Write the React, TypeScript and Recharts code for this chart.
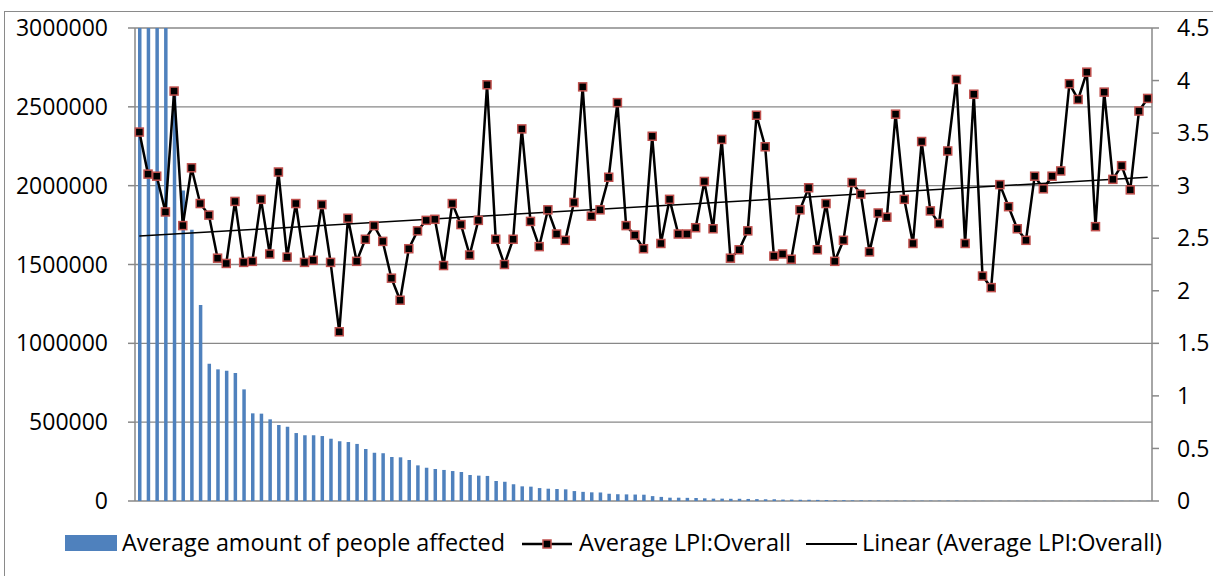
import React from 'react';
import {
  ComposedChart,
  Bar,
  Line,
  XAxis,
  YAxis,
  CartesianGrid,
} from 'recharts';

// people affected, sorted high to low (first bars run past the 3M axis limit)
const peopleAffected = [
  9000000, 6000000, 4500000, 3300000, 2600000, 1970000, 1720000, 1243000, 871000, 835000,
  826000, 812000, 708000, 556000, 554000, 518000, 482000, 471000, 431000, 417000,
  417000, 412000, 395000, 379000, 374000, 362000, 330000, 306000, 303000, 279000,
  277000, 260000, 226000, 211000, 203000, 197000, 190000, 184000, 165000, 161000,
  159000, 127000, 122000, 106000, 93000, 91000, 82000, 78000, 76000, 74000,
  63000, 58000, 55000, 54000, 46000, 43000, 42000, 41000, 40000, 31000,
  26000, 21000, 21000, 20000, 19000, 17000, 15000, 15000, 14000, 14000,
  13000, 12000, 11000, 11000, 9000, 9000, 8000, 8000, 7000, 6000,
  5000, 5000, 4000, 4000, 3000, 3000, 2000, 2000, 2000, 2000,
  2000, 2000, 2000, 2000, 2000, 1000, 1000, 1000, 1000, 1000,
  1000, 1000, 1000, 1000, 1000, 1000, 1000, 1000, 1000, 1000,
  1000, 1000, 1000, 1000, 1000, 1000, 1000,
];

const lpiOverall = [
  3.51, 3.11, 3.09, 2.75, 3.9, 2.62, 3.17, 2.83, 2.72, 2.31,
  2.26, 2.85, 2.27, 2.28, 2.87, 2.35, 3.13, 2.32, 2.83, 2.27,
  2.29, 2.82, 2.27, 1.61, 2.69, 2.28, 2.49, 2.62, 2.47, 2.12,
  1.91, 2.4, 2.57, 2.67, 2.68, 2.24, 2.83, 2.63, 2.34, 2.67,
  3.96, 2.49, 2.25, 2.49, 3.54, 2.66, 2.42, 2.77, 2.54, 2.48,
  2.84, 3.94, 2.71, 2.77, 3.08, 3.79, 2.62, 2.53, 2.4, 3.47,
  2.45, 2.87, 2.54, 2.54, 2.6, 3.04, 2.59, 3.44, 2.31, 2.39,
  2.57, 3.67, 3.37, 2.33, 2.35, 2.3, 2.77, 2.98, 2.39, 2.83,
  2.28, 2.48, 3.03, 2.92, 2.37, 2.74, 2.7, 3.68, 2.87, 2.45,
  3.42, 2.76, 2.64, 3.33, 4.01, 2.45, 3.87, 2.14, 2.03, 3.01,
  2.8, 2.59, 2.48, 3.09, 2.97, 3.09, 3.14, 3.97, 3.82, 4.08,
  2.61, 3.89, 3.06, 3.19, 2.96, 3.71, 3.83,
];

// trendline end values
const trendStart = 2.52;
const trendEnd = 3.08;

const leftTicks = [0, 500000, 1000000, 1500000, 2000000, 2500000, 3000000];
const rightTicks = [0, 0.5, 1, 1.5, 2, 2.5, 3, 3.5, 4, 4.5];

const data = peopleAffected.map((v, i) => ({
  name: String(i + 1),
  people: v,
  lpi: lpiOverall[i],
  trend: i === 0 ? trendStart : i === lpiOverall.length - 1 ? trendEnd : null,
}));

const FONT = '"Open Sans", sans-serif';
const GRAY = '#888888';
const BLUE = '#4f81bd';
const RED = '#c0504d';

const SquareDot = (props: any) => {
  const { cx, cy } = props;
  if (cx == null || cy == null) return null;
  return (
    <rect x={cx - 4} y={cy - 4} width={8} height={8} fill="#000" stroke={RED} strokeWidth={1.5} />
  );
};

export default function App() {
  return (
    <div
      style={{
        position: 'fixed',
        left: 0,
        top: 0,
        width: 1213,
        height: 576,
        overflow: 'hidden',
        background: '#fff',
        fontFamily: FONT,
      }}
    >
      {/* chart frame */}
      <div
        style={{
          position: 'absolute',
          left: 4,
          top: 11,
          width: 1240,
          height: 600,
          border: '1px solid #8a8a8a',
        }}
      />
      <div style={{ position: 'absolute', left: 0, top: 0 }}>
        <ComposedChart
          width={1213}
          height={576}
          data={data}
          barCategoryGap={0}
          margin={{ top: 28, right: 0, bottom: 75, left: 0 }}
        >
          <CartesianGrid yAxisId="left" vertical={false} stroke={GRAY} strokeWidth={1.3} />
          <XAxis
            dataKey="name"
            height={0}
            tick={false}
            tickLine={false}
            axisLine={{ stroke: GRAY, strokeWidth: 1.5 }}
          />
          <YAxis
            yAxisId="left"
            width={135}
            domain={[0, 3000000]}
            ticks={leftTicks}
            allowDataOverflow
            interval={0}
            tickSize={7}
            tickMargin={20}
            axisLine={{ stroke: GRAY, strokeWidth: 1.5 }}
            tickLine={{ stroke: GRAY, strokeWidth: 1.5 }}
            tick={{ fill: '#000', fontSize: 23, fontFamily: FONT }}
          />
          <YAxis
            yAxisId="right"
            orientation="right"
            width={61}
            domain={[0, 4.5]}
            ticks={rightTicks}
            interval={0}
            tickSize={7}
            tickMargin={18}
            axisLine={{ stroke: GRAY, strokeWidth: 1.5 }}
            tickLine={{ stroke: GRAY, strokeWidth: 1.5 }}
            tick={{ fill: '#000', fontSize: 23, fontFamily: FONT, textAnchor: 'start' }}
          />
          <Bar
            yAxisId="left"
            dataKey="people"
            fill={BLUE}
            barSize={3.5}
            isAnimationActive={false}
          />
          <Line
            yAxisId="right"
            dataKey="lpi"
            type="linear"
            stroke="#000"
            strokeWidth={2.5}
            dot={<SquareDot />}
            activeDot={false}
            isAnimationActive={false}
          />
          <Line
            yAxisId="right"
            dataKey="trend"
            type="linear"
            stroke="#000"
            strokeWidth={1.5}
            dot={false}
            activeDot={false}
            connectNulls
            isAnimationActive={false}
          />
        </ComposedChart>
      </div>
      {/* legend */}
      <svg
        width={1213}
        height={576}
        style={{ position: 'absolute', left: 0, top: 0, pointerEvents: 'none' }}
      >
        <rect x={65} y={535} width={52} height={16} fill={BLUE} />
        <text x={122} y={551} fontSize={24} fontFamily={FONT} textLength={383} lengthAdjust="spacingAndGlyphs">
          Average amount of people affected
        </text>
        <line x1={522} x2={572} y1={544} y2={544} stroke="#000" strokeWidth={2.5} />
        <rect x={543} y={540} width={8} height={8} fill="#000" stroke={RED} strokeWidth={1.5} />
        <text x={579} y={551} fontSize={24} fontFamily={FONT} textLength={212} lengthAdjust="spacingAndGlyphs">
          Average LPI:Overall
        </text>
        <line x1={806} x2={857} y1={544} y2={544} stroke="#000" strokeWidth={1.8} />
        <text x={862} y={551} fontSize={24} fontFamily={FONT} textLength={300} lengthAdjust="spacingAndGlyphs">
          Linear (Average LPI:Overall)
        </text>
      </svg>
    </div>
  );
}
